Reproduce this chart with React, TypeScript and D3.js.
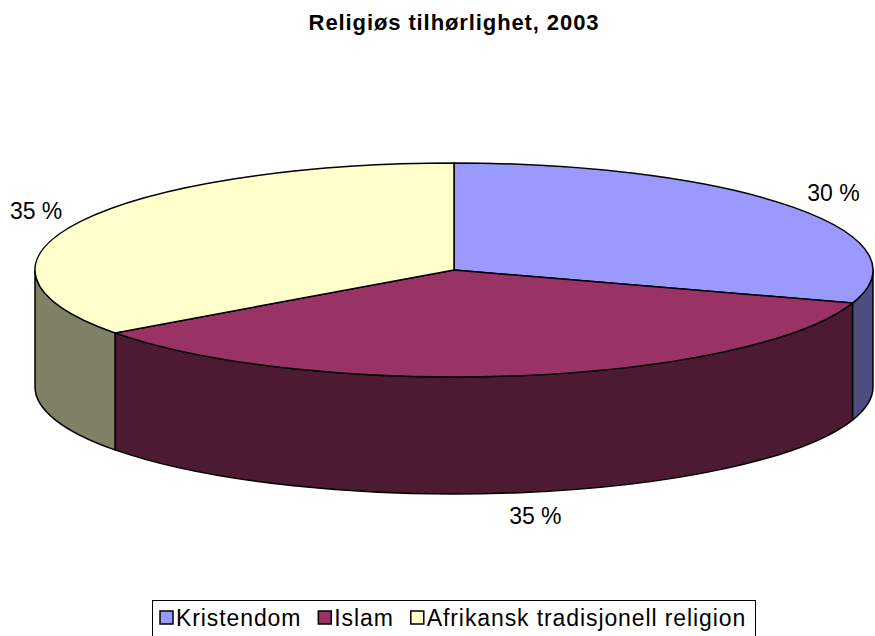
import React, { useEffect, useRef } from 'react'
import * as d3 from 'd3'

const categories = ['Kristendom', 'Islam', 'Afrikansk tradisjonell religion']
const shares = [30, 35, 35]
const labels = ['30 %', '35 %', '35 %']
const topColors = ['#9999FF', '#993366', '#FFFFCC']
const sideColors = ['#4D4D80', '#4D1A33', '#808066']

const App = () => {
  const svgRef = useRef<SVGSVGElement>(null)

  useEffect(() => {
    const width = 875
    const height = 636
    const font = 'Liberation Sans, Arial, sans-serif'
    const svg = d3.select(svgRef.current)
    svg.selectAll('*').remove()
    svg.attr('width', width).attr('height', height)

    const cx = 454
    const cy = 270
    const rx = 419
    const ry = 107
    const depth = 117

    const pt = (a: number, dy = 0): [number, number] => [cx + rx * Math.sin(a), cy - ry * Math.cos(a) + dy]

    const pie = d3.pie<number>().sort(null).value((d) => d)
    const arcs = pie(shares)

    svg
      .append('text')
      .attr('x', 454)
      .attr('y', 30)
      .attr('text-anchor', 'middle')
      .style('font-family', font)
      .style('font-weight', 'bold')
      .style('font-size', '22px')
      .style('letter-spacing', '0.9px')
      .text('Religiøs tilhørlighet, 2003')

    const g = svg.append('g')

    // sides (front half only)
    arcs.forEach((d, i) => {
      const a0 = Math.max(d.startAngle, Math.PI / 2)
      const a1 = Math.min(d.endAngle, (3 * Math.PI) / 2)
      if (a1 <= a0) return
      const [x0, y0] = pt(a0)
      const [x1, y1] = pt(a1)
      const large = a1 - a0 > Math.PI ? 1 : 0
      const p = `M${x0},${y0} A${rx},${ry} 0 ${large} 1 ${x1},${y1} L${x1},${y1 + depth} A${rx},${ry} 0 ${large} 0 ${x0},${y0 + depth} Z`
      g.append('path')
        .attr('d', p)
        .attr('fill', sideColors[i])
        .attr('stroke', '#000')
        .attr('stroke-width', 1.5)
        .attr('stroke-linejoin', 'round')
    })

    // tops
    arcs.forEach((d, i) => {
      const [x0, y0] = pt(d.startAngle)
      const [x1, y1] = pt(d.endAngle)
      const large = d.endAngle - d.startAngle > Math.PI ? 1 : 0
      const p = `M${cx},${cy} L${x0},${y0} A${rx},${ry} 0 ${large} 1 ${x1},${y1} Z`
      g.append('path')
        .attr('d', p)
        .attr('fill', topColors[i])
        .attr('stroke', '#000')
        .attr('stroke-width', 1.5)
        .attr('stroke-linejoin', 'round')
    })

    // labels
    arcs.forEach((d, i) => {
      const m = (d.startAngle + d.endAngle) / 2
      const lower = Math.cos(m) < 0
      const [ex, ey] = pt(m, lower ? depth : 0)
      const x = ex + Math.sin(m) * 50 + (lower ? 8 : 0)
      const y = ey - Math.cos(m) * 24
      svg
        .append('text')
        .attr('x', x)
        .attr('y', y)
        .attr('text-anchor', 'middle')
        .attr('dy', '0.35em')
        .style('font-family', font)
        .style('font-size', '23px')
        .text(labels[i])
    })

    // legend
    const lg = svg.append('g')
    lg.append('rect')
      .attr('x', 152.5)
      .attr('y', 600.5)
      .attr('width', 603)
      .attr('height', 50)
      .attr('fill', '#fff')
      .attr('stroke', '#000')
      .attr('stroke-width', 1)
    let lx = 160
    categories.forEach((c, i) => {
      lg.append('rect')
        .attr('x', lx)
        .attr('y', 611)
        .attr('width', 13)
        .attr('height', 13)
        .attr('fill', topColors[i])
        .attr('stroke', '#000')
        .attr('stroke-width', 1.5)
      const t = lg
        .append('text')
        .attr('x', lx + 16)
        .attr('y', 626)
        .style('font-family', font)
        .style('font-size', '23px')
        .style('letter-spacing', '0.9px')
        .text(c)
      const w = (t.node() as SVGTextElement).getComputedTextLength()
      lx += 16 + w + 17
    })
  }, [])

  return <svg ref={svgRef} style={{ position: 'absolute', left: 0, top: 0 }}></svg>
}

export default App
